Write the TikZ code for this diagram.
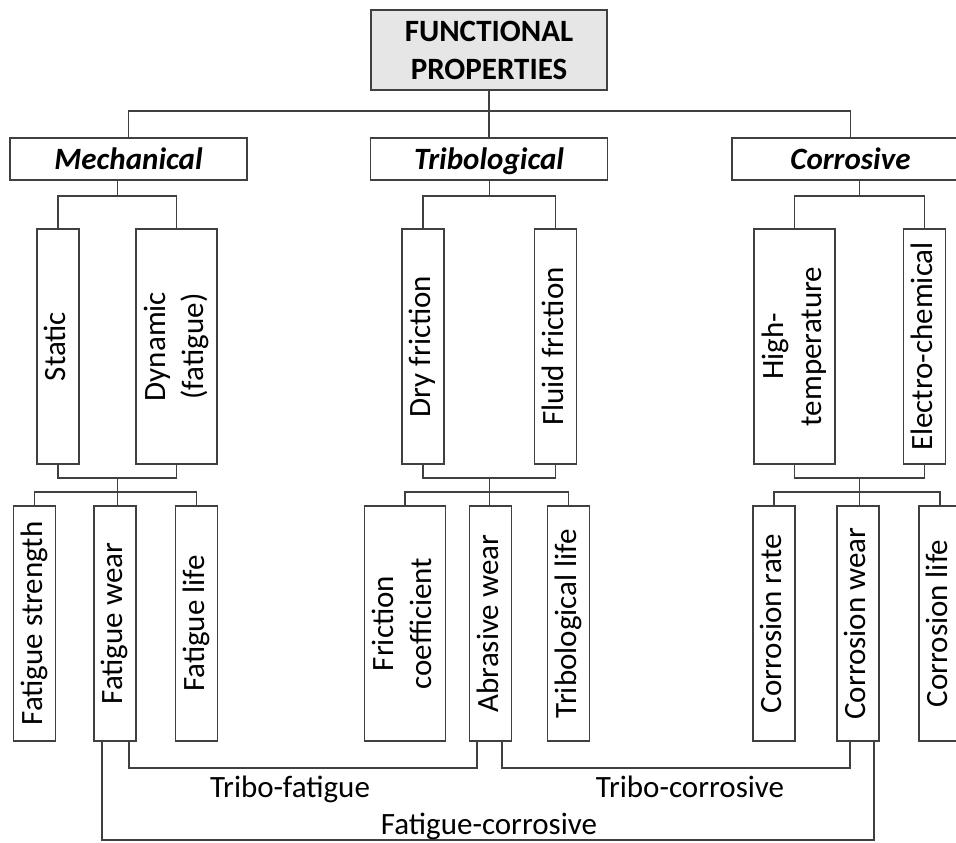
\documentclass[tikz,border=0pt]{standalone}
\usepackage{fontspec}
\setmainfont{Carlito}
\usetikzlibrary{calc}

\definecolor{linegray}{RGB}{64,64,64}
\definecolor{headfill}{RGB}{230,230,230}

\tikzset{every picture/.style={line width=1.1pt}}
\tikzset{
  box/.style={draw=linegray, inner sep=0pt, outer sep=0pt, align=center, font=\fontsize{23.25}{28.5}\selectfont},
  topbox/.style={box, fill=headfill, minimum width=177pt, minimum height=60pt, font=\fontsize{23.25}{28.5}\selectfont\bfseries},
  catbox/.style={box, minimum width=177.75pt, minimum height=31.5pt, text height=17pt, text depth=2pt, font=\fontsize{23.25}{28.5}\selectfont\bfseries\itshape},
  thinbox/.style={box, minimum width=31.5pt, minimum height=176.25pt},
  widebox/.style={box, minimum width=61pt, minimum height=176.25pt},
  conn/.style={draw=linegray},
  linklabel/.style={inner sep=0pt, anchor=base, font=\fontsize{23.25}{28.5}\selectfont},
}
\newcommand{\vlabel}[1]{\rotatebox{90}{\begin{tabular}{@{}c@{}}#1\end{tabular}}}

\begin{document}
\begin{tikzpicture}[x=0.75pt,y=0.75pt,yscale=-1,xscale=1]
		\useasboundingbox (0,0) rectangle (956,842);
		\clip (0,0) rectangle (956,842);
		
		%Shape: Rectangle [id:head]
		\node[topbox] (func) at (489,50) {FUNCTIONAL\\PROPERTIES};
		%Shape: Rectangle [id:groups]
		\node[catbox] (mech) at (128.5,159) {Mechanical};
		\node[catbox] (trib) at (489,159) {Tribological};
		\node[catbox] (corr) at (850.5,159) {Corrosive};
		
		%Shape: Rectangle [id:kinds]
		\node[thinbox] (static) at (58,346.5) {\vlabel{Static}};
		\node[widebox] (dynamic) at (176.5,346.5) {\vlabel{Dynamic\\(fatigue)}};
		\node[thinbox] (dry) at (423,346.5) {\vlabel{Dry friction}};
		\node[thinbox] (fluid) at (555.5,346.5) {\vlabel{Fluid friction}};
		\node[widebox] (hight) at (794.5,346.5) {\vlabel{High-\\temperature}};
		\node[thinbox] (electro) at (924.5,346.5) {\vlabel{Electro-chemical}};
		
		%Shape: Rectangle [id:measures]
		\node[thinbox] (fstrength) at (34.5,623.5) {\vlabel{Fatigue strength}};
		\node[thinbox] (fwear) at (115,623.5) {\vlabel{Fatigue wear}};
		\node[thinbox] (flife) at (196.5,623.5) {\vlabel{Fatigue life}};
		\node[widebox] (fcoef) at (405,623.5) {\vlabel{Friction\\coefficient}};
		\node[thinbox] (abrasive) at (490.5,623.5) {\vlabel{Abrasive wear}};
		\node[thinbox] (tlife) at (568.5,623.5) {\vlabel{Tribological life}};
		\node[thinbox] (crate) at (774,623.5) {\vlabel{Corrosion rate}};
		\node[thinbox] (cwear) at (858,623.5) {\vlabel{Corrosion wear}};
		\node[thinbox] (clife) at (940,623.5) {\vlabel{Corrosion life}};
		
		%Straight Lines [id:top]
		\draw[conn] (func) -- (trib);
		\draw[conn] (mech.north) -- ++(0,-27) -| (corr.north);
		
		%Straight Lines [id:mechanical]
		\coordinate (mechtop) at ($(static.north)!.5!(dynamic.north)+(0,-33)$);
		\draw[conn] (static.north) |- (mechtop) -| (dynamic.north);
		\draw[conn] (mechtop) -- (mechtop |- mech.south);
		\coordinate (mechbot) at ($(static.south)!.5!(dynamic.south)+(0,14)$);
		\draw[conn] (static.south) |- (mechbot) -| (dynamic.south);
		\draw[conn] (mechbot) -- (mechbot |- fwear.north);
		\draw[conn] (fstrength.north) -- ++(0,-14) -| (flife.north);
		
		%Straight Lines [id:tribological]
		\coordinate (tribtop) at ($(dry.north)!.5!(fluid.north)+(0,-33)$);
		\draw[conn] (dry.north) |- (tribtop) -| (fluid.north);
		\draw[conn] (tribtop) -- (tribtop |- trib.south);
		\coordinate (tribbot) at ($(dry.south)!.5!(fluid.south)+(0,14)$);
		\draw[conn] (dry.south) |- (tribbot) -| (fluid.south);
		\draw[conn] (tribbot) -- (tribbot |- abrasive.north);
		\draw[conn] (fcoef.north) -- ++(0,-14) -| (tlife.north);
		
		%Straight Lines [id:corrosive]
		\coordinate (corrtop) at ($(hight.north)!.5!(electro.north)+(0,-33)$);
		\draw[conn] (hight.north) |- (corrtop) -| (electro.north);
		\draw[conn] (corrtop) -- (corrtop |- corr.south);
		\coordinate (corrbot) at ($(hight.south)!.5!(electro.south)+(0,14)$);
		\draw[conn] (hight.south) |- (corrbot) -| (electro.south);
		\draw[conn] (corrbot) -- (corrbot |- cwear.north);
		\draw[conn] (crate.north) -- ++(0,-14) -| (clife.north);
		
		%Straight Lines [id:links]
		\draw[conn] ([xshift=10.5pt]fwear.south) -- ++(0,27) -| ([xshift=-10pt]abrasive.south);
		\draw[conn] ([xshift=8.6pt]abrasive.south) -- ++(0,27) -| ([xshift=-6pt]cwear.south);
		\draw[conn] ([xshift=-9.75pt]fwear.south) -- ++(0,99) -| ([xshift=12pt]cwear.south);
		
		% Text Node
		\node[linklabel] (tribofat) at (290,797) {Tribo-fatigue};
		% Text Node
		\node[linklabel] (tribocor) at (690,797) {Tribo-corrosive};
		% Text Node
		\node[linklabel] (fatcor) at (489,834) {Fatigue-corrosive};
\end{tikzpicture}
\end{document}
